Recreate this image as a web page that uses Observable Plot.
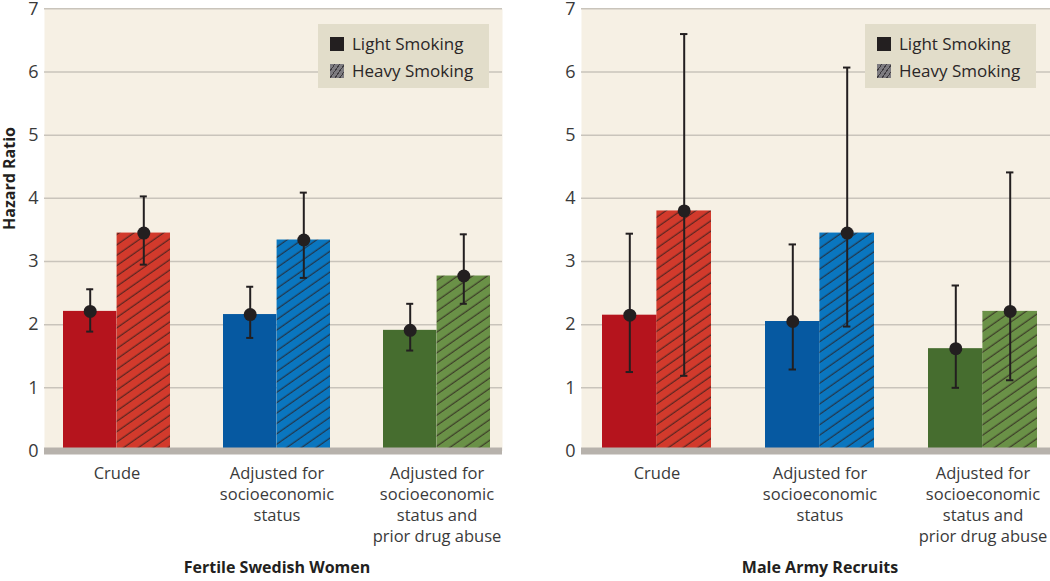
<!DOCTYPE html>
<html>
<head>
<meta charset="utf-8">
<script src="https://cdn.jsdelivr.net/npm/d3@7"></script>
<script src="https://cdn.jsdelivr.net/npm/@observablehq/plot@0.6"></script>
<style>
  html, body { margin: 0; padding: 0; background: #ffffff; }
  #wrap { display: flex; flex-direction: row; width: 1050px; height: 581px; overflow: hidden; }
  .panel { position: relative; }
  .legend { position: absolute; background: #e2ddca; font-family: "Open Sans", sans-serif; font-size: 17px; color: #2a2627; box-sizing: border-box; }
  .legend .item { position: absolute; left: 12px; display: flex; align-items: center; white-space: nowrap; line-height: 20px; }
  .legend .sw { width: 14px; height: 14px; margin-right: 8px; }
</style>
</head>
<body>
<div id="wrap"></div>
<script>
// ---------- data ----------
const groups = [
  "Crude",
  "Adjusted for\nsocioeconomic\nstatus",
  "Adjusted for\nsocioeconomic\nstatus and\nprior drug abuse"
];
const series = ["Light Smoking", "Heavy Smoking"];
const yTicks = [0, 1, 2, 3, 4, 5, 6, 7];

const womenLight   = [2.21, 2.16, 1.91];
const womenLightLo = [1.89, 1.79, 1.59];
const womenLightHi = [2.56, 2.60, 2.33];
const womenHeavy   = [3.45, 3.34, 2.77];
const womenHeavyLo = [2.95, 2.74, 2.33];
const womenHeavyHi = [4.03, 4.09, 3.43];

const menLight   = [2.15, 2.05, 1.62];
const menLightLo = [1.25, 1.29, 1.00];
const menLightHi = [3.44, 3.27, 2.62];
const menHeavy   = [3.80, 3.45, 2.21];
const menHeavyLo = [1.19, 1.97, 1.12];
const menHeavyHi = [6.60, 6.07, 4.41];

// ---------- styles ----------
const lightColors = ["#b5141d", "#0659a1", "#466d2f"];
const heavyColors = ["#d23a2c", "#0a76bf", "#6a9147"];
const FONT = "Open Sans";

function rows(light, lightLo, lightHi, heavy, heavyLo, heavyHi) {
  return groups.map((g, i) => ({
    group: g, i,
    light: light[i], lightLo: lightLo[i], lightHi: lightHi[i],
    heavy: heavy[i], heavyLo: heavyLo[i], heavyHi: heavyHi[i]
  }));
}

function panel({data, title, width, marginLeft, marginRight, padOuter, align, yLabel, prefix}) {
  const height = 581, marginTop = 8.3, marginBottom = 130.5;
  const padInner = 0.334;
  const band = d3.scaleBand().domain(groups).range([marginLeft, width - marginRight])
    .paddingInner(padInner).paddingOuter(padOuter).align(align);
  const bw = band.bandwidth();
  const q = bw / 4, cap = 3.6;
  const ink = "#231f20";

  const marks = [
    Plot.frame({fill: "#f6f0e4", stroke: null}),
    Plot.ruleY(yTicks.filter(d => d > 0), {stroke: "#c9c4bb", strokeWidth: 1.5}),
    Plot.barY(data, {x: "group", y: "light", fill: d => lightColors[d.i], insetRight: bw / 2}),
    Plot.barY(data, {x: "group", y: "heavy", fill: d => `url(#${prefix}h${d.i})`, insetLeft: bw / 2}),
    Plot.ruleY([0], {stroke: "#b7b2ac", strokeWidth: 7}),
    Plot.ruleX(data, {x: "group", y1: "lightLo", y2: "lightHi", dx: -q, stroke: ink, strokeWidth: 2}),
    Plot.ruleX(data, {x: "group", y1: "heavyLo", y2: "heavyHi", dx: q, stroke: ink, strokeWidth: 2}),
    Plot.tickY(data, {x: "group", y: "lightHi", insetLeft: q - cap, insetRight: 3 * q - cap, stroke: ink, strokeWidth: 2}),
    Plot.tickY(data, {x: "group", y: "lightLo", insetLeft: q - cap, insetRight: 3 * q - cap, stroke: ink, strokeWidth: 2}),
    Plot.tickY(data, {x: "group", y: "heavyHi", insetLeft: 3 * q - cap, insetRight: q - cap, stroke: ink, strokeWidth: 2}),
    Plot.tickY(data, {x: "group", y: "heavyLo", insetLeft: 3 * q - cap, insetRight: q - cap, stroke: ink, strokeWidth: 2}),
    Plot.dot(data, {x: "group", y: "light", dx: -q, r: 6.5, fill: ink, stroke: null}),
    Plot.dot(data, {x: "group", y: "heavy", dx: q, r: 6.5, fill: ink, stroke: null}),
    Plot.axisY({ticks: yTicks, tickSize: 0, tickPadding: 6, label: null, fontSize: 18, fill: "#3a3a3a", tickFormat: d => String(d)}),
    Plot.axisX({tickSize: 0, tickPadding: 13, label: null, fontSize: 16.5, lineHeight: 1.27, fill: "#3a3a3a", tickFormat: d => d}),
    Plot.text([groups[1]], {x: d => d, text: () => title, frameAnchor: "bottom", dy: 121.5, fontWeight: "bold", fontSize: 16, fill: ink})
  ];
  if (yLabel) {
    marks.push(Plot.text([yLabel], {frameAnchor: "left", dx: -35, rotate: -90, fontWeight: "bold", fontSize: 16, fill: ink}));
  }

  const svg = Plot.plot({
    width, height, marginTop, marginBottom, marginLeft, marginRight,
    style: {fontFamily: FONT, background: "transparent", overflow: "visible"},
    x: {domain: groups, type: "band", paddingInner: padInner, paddingOuter: padOuter, align, axis: null},
    y: {domain: [0, 7], axis: null},
    color: {type: "identity"},
    marks
  });

  // hatch patterns for the heavy-smoking bars
  const defs = d3.select(svg).insert("defs", ":first-child");
  heavyColors.forEach((c, i) => {
    const p = defs.append("pattern")
      .attr("id", `${prefix}h${i}`)
      .attr("patternUnits", "userSpaceOnUse")
      .attr("width", 8.5).attr("height", 8.5)
      .attr("patternTransform", "rotate(-35)");
    p.append("rect").attr("width", 8.5).attr("height", 8.5).attr("fill", c);
    p.append("line").attr("x1", 0).attr("x2", 8.5).attr("y1", 4).attr("y2", 4)
      .attr("stroke", "#2b1c1c").attr("stroke-width", 0.9);
  });
  return svg;
}

function legend(left) {
  const div = document.createElement("div");
  div.className = "legend";
  Object.assign(div.style, {left: left + "px", top: "24px", width: "171px", height: "64px"});
  const items = [
    {label: series[0], bg: "#231f20", top: 10},
    {label: series[1], bg: "repeating-linear-gradient(-55deg, #7d7b80 0px, #7d7b80 3px, #3f3c40 3px, #3f3c40 4px)", top: 37}
  ];
  items.forEach(it => {
    const row = document.createElement("div");
    row.className = "item";
    row.style.top = it.top + "px";
    const sw = document.createElement("div");
    sw.className = "sw";
    sw.style.background = it.bg;
    const t = document.createElement("span");
    t.textContent = it.label;
    row.appendChild(sw); row.appendChild(t);
    div.appendChild(row);
  });
  return div;
}

const wrap = document.getElementById("wrap");

const p1 = document.createElement("div");
p1.className = "panel"; p1.style.width = "530px";
p1.appendChild(panel({
  data: rows(womenLight, womenLightLo, womenLightHi, womenHeavy, womenHeavyLo, womenHeavyHi),
  title: "Fertile Swedish Women", width: 530, marginLeft: 44, marginRight: 28,
  padOuter: 0.09, align: 0.59, yLabel: "Hazard Ratio", prefix: "w"
}));
p1.appendChild(legend(318));
wrap.appendChild(p1);

const p2 = document.createElement("div");
p2.className = "panel"; p2.style.width = "520px";
p2.appendChild(panel({
  data: rows(menLight, menLightLo, menLightHi, menHeavy, menHeavyLo, menHeavyHi),
  title: "Male Army Recruits", width: 520, marginLeft: 51, marginRight: 0,
  padOuter: 0.1025, align: 0.6, yLabel: null, prefix: "m"
}));
p2.appendChild(legend(335));
wrap.appendChild(p2);
</script>
</body>
</html>
